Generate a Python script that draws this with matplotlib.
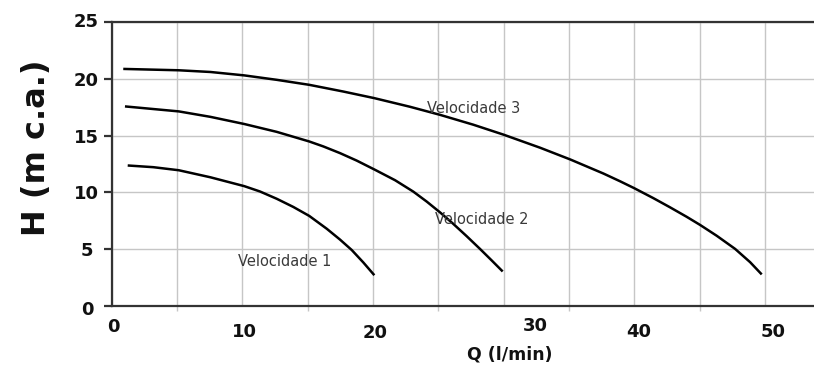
import matplotlib
matplotlib.use("Agg")
import matplotlib.pyplot as plt
import matplotlib.transforms as mtransforms
from matplotlib.ticker import FixedLocator

# ---- data ----
q_vel1 = [1.24, 3.20, 5.15, 7.57, 10.16, 11.36, 12.64, 13.91, 15.13, 16.47, 17.48, 18.38, 19.27, 20.11]
h_vel1 = [12.37, 12.22, 11.95, 11.33, 10.55, 10.08, 9.44, 8.72, 7.93, 6.80, 5.85, 4.93, 3.83, 2.71]

q_vel2 = [1.03, 5.15, 7.57, 10.16, 12.64, 15.11, 16.20, 17.48, 18.76, 20.16, 21.70, 23.09,
          24.12, 25.16, 26.15, 27.18, 28.19, 29.09, 29.93]
h_vel2 = [17.57, 17.13, 16.65, 16.02, 15.33, 14.49, 14.05, 13.46, 12.80, 11.99, 11.07, 10.07,
          9.19, 8.22, 7.23, 6.14, 5.03, 4.01, 3.04]

q_vel3 = [0.90, 5.15, 7.57, 10.16, 12.64, 15.13, 17.73, 20.10, 22.83, 25.13, 27.68, 29.98,
          32.80, 35.10, 37.64, 38.91, 39.98, 41.45, 42.73, 44.01, 45.03, 46.31, 47.71, 48.86, 49.75]
h_vel3 = [20.87, 20.75, 20.60, 20.30, 19.91, 19.47, 18.88, 18.30, 17.54, 16.83, 15.96, 15.09,
          13.93, 12.90, 11.66, 10.98, 10.38, 9.50, 8.69, 7.85, 7.14, 6.18, 5.03, 3.86, 2.78]

series_names = ["Velocidade 1", "Velocidade 2", "Velocidade 3"]
label_q = [9.66, 24.75, 24.14]
label_h = [3.95, 7.61, 17.42]

x_ticks = [0, 10, 20, 30, 40, 50]
x_ticklabels = ["0", "10", "20", "30", "40", "50"]
x_minor = [5, 15, 25, 35, 45]
y_ticks = [0, 5, 10, 15, 20, 25]
y_ticklabels = ["0", "5", "10", "15", "20", "25"]

x_title = "Q (l/min)"
y_title = "H (m c.a.)"

# ---- layout / style ----
W, H = 814, 366
fig = plt.figure(figsize=(W / 100, H / 100), dpi=100)
left_px, right_px, top_px, bottom_px = 111.5, 814, 22, 306
ax = fig.add_axes([left_px / W, 1 - bottom_px / H,
                   (right_px - left_px) / W, (bottom_px - top_px) / H])

ax.set_xlim(0, 53.75)
ax.set_ylim(0, 25)

spine_c = "#333333"
grid_c = "#c6c6c6"

for q, h in [(q_vel1, h_vel1), (q_vel2, h_vel2), (q_vel3, h_vel3)]:
    ax.plot(q, h, color="black", lw=1.8, solid_capstyle="butt", solid_joinstyle="round", zorder=3)

for name, lq, lh in zip(series_names, label_q, label_h):
    ax.text(lq, lh, name, fontsize=10.5, color="#3a3a3a", ha="left", va="center",
            family="DejaVu Sans", zorder=4)

ax.xaxis.set_major_locator(FixedLocator(x_ticks))
ax.xaxis.set_minor_locator(FixedLocator(x_minor))
ax.set_xticks(x_ticks, x_ticklabels)
ax.set_yticks(y_ticks, y_ticklabels)

ax.grid(True, which="both", axis="x", color=grid_c, lw=1.0, zorder=0)
ax.grid(True, which="major", axis="y", color=grid_c, lw=1.0, zorder=0)
ax.set_axisbelow(True)

for s in ["left", "bottom", "top"]:
    ax.spines[s].set_color(spine_c)
    ax.spines[s].set_linewidth(1.6)
ax.spines["right"].set_visible(False)

ax.tick_params(axis="x", which="major", length=0, pad=12.5, labelsize=13, labelcolor="#111111")
ax.tick_params(axis="x", which="minor", length=3.5, width=1.0, color=grid_c)
ax.tick_params(axis="y", which="major", length=6, width=1.6, color=spine_c, pad=3,
               labelsize=13, labelcolor="#111111")
for lab in ax.get_xticklabels() + ax.get_yticklabels():
    lab.set_fontweight("bold")
    lab.set_family("DejaVu Sans")

# small label offsets seen in the reference (points)
x_nudge = [(1.5, 4), (1.5, 0), (1.5, -0.5), (23, 4.5), (3.5, 0), (5.5, 0)]
y_nudge = [(-4, -1.5), (-4, 0), (0, 0), (0, 0), (0, -0.5), (0, 1.5)]
for lab, (dx, dy) in zip(ax.get_xticklabels(), x_nudge):
    lab.set_transform(lab.get_transform() + mtransforms.ScaledTranslation(dx / 72, dy / 72, fig.dpi_scale_trans))
for lab, (dx, dy) in zip(ax.get_yticklabels(), y_nudge):
    lab.set_transform(lab.get_transform() + mtransforms.ScaledTranslation(dx / 72, dy / 72, fig.dpi_scale_trans))

ax.set_xlabel(x_title, fontsize=12.5, fontweight="bold", family="DejaVu Sans", color="#111111")
ax.xaxis.label.set_va("center")
ax.xaxis.set_label_coords((509.5 - left_px) / (right_px - left_px), (bottom_px - 355) / (bottom_px - top_px))
ax.set_ylabel(y_title, fontsize=23, fontweight="bold", family="DejaVu Sans", color="#111111")
ax.yaxis.label.set_va("center")
ax.yaxis.set_label_coords((36 - left_px) / (right_px - left_px), (bottom_px - 148) / (bottom_px - top_px))

fig.savefig("out.png", dpi=100)
